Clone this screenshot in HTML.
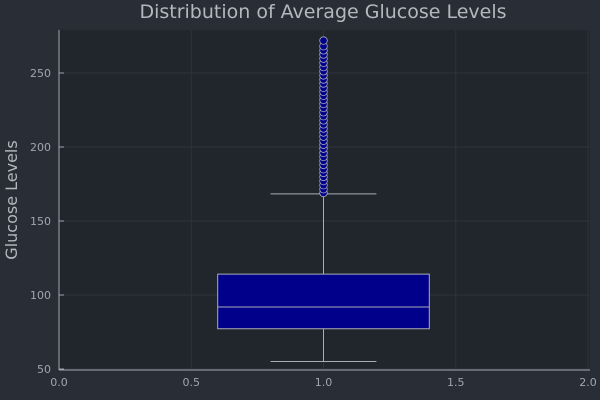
<!DOCTYPE html>
<html><head><meta charset="utf-8"><style>
html,body{margin:0;padding:0;background:#292d35;overflow:hidden;width:600px;height:400px;}
svg{display:block;}
svg text{font-family:"DejaVu Sans","Liberation Sans",sans-serif;}
</style></head><body>
<svg id="c" width="600" height="400" xmlns="http://www.w3.org/2000/svg">
<rect width="600" height="400" fill="#292d35"/>
<rect x="59" y="30" width="531" height="340" fill="#21252c"/>
<text x="323" y="18" font-size="19" fill="#b4b8be" text-anchor="middle">Distribution of Average Glucose Levels</text>
<text x="17" y="200" font-size="16" fill="#b4b8be" text-anchor="middle" transform="rotate(-90 17 200)">Glucose Levels</text>
<g id="grid"></g><g id="axes"></g><g id="marks"></g>
</svg>
<script>
const xTicks=[0,0.5,1.0,1.5,2.0];
const xTickLabels=["0.0","0.5","1.0","1.5","2.0"];
const yTicks=[50,100,150,200,250];
const yTickLabels=["50","100","150","200","250"];
const boxStats={min:55.1,q1:77.2,median:91.9,q3:114.1,max:168.3};
const outliers=[169.0,171.5,174.2,177.0,179.8,182.5,185.0,187.9,190.6,193.3,196.0,198.9,201.5,204.2,207.0,209.8,212.5,215.3,218.0,220.8,223.5,226.4,229.1,231.8,234.6,237.3,240.0,242.9,245.6,248.4,251.2,254.0,256.9,259.7,262.5,265.3,268.1,271.9];
const NS="http://www.w3.org/2000/svg";
const X=v=>59+v*(588-59)/2;
const Y=v=>369-(v-50)*(296/200);
function mk(t,a,p){const e=document.createElementNS(NS,t);for(const k in a)e.setAttribute(k,a[k]);p.appendChild(e);return e;}
const grid=document.getElementById('grid'),axes=document.getElementById('axes'),marks=document.getElementById('marks');
xTicks.forEach((v,i)=>{
 const g=mk('line',{x1:X(v),x2:X(v),y1:30,y2:370,stroke:'#2e333b','stroke-width':1},grid);
 
 
 const t=mk('text',{x:X(v),y:386,'font-size':11,fill:'#a0a6ae','text-anchor':'middle'},axes);t.textContent=xTickLabels[i];
 
 
});
yTicks.forEach((v,i)=>{
 const g=mk('line',{x1:59,x2:590,y1:Y(v),y2:Y(v),stroke:'#2e333b','stroke-width':1},grid);
 
 
 mk('line',{x1:59,x2:64,y1:Y(v),y2:Y(v),stroke:'#a0a6ae'},axes);
 const t=mk('text',{x:51,y:Y(v)+4,'font-size':11,fill:'#a0a6ae','text-anchor':'end'},axes);t.textContent=yTickLabels[i];
 
 
});
const ax=mk('line',{x1:59,x2:590,y1:370,y2:370,stroke:'#a0a6ae'},axes);


const ay=mk('line',{x1:59,x2:59,y1:30,y2:370,stroke:'#a0a6ae'},axes);


const s='#a9adb4';
const w1=mk('line',{x1:X(1),x2:X(1),y1:Y(boxStats.q3),y2:Y(boxStats.max),stroke:s},marks);


const w2=mk('line',{x1:X(1),x2:X(1),y1:Y(boxStats.q1),y2:Y(boxStats.min),stroke:s},marks);


const c1=mk('line',{x1:X(0.8),x2:X(1.2),y1:Y(boxStats.max),y2:Y(boxStats.max),stroke:s},marks);


const c2=mk('line',{x1:X(0.8),x2:X(1.2),y1:Y(boxStats.min),y2:Y(boxStats.min),stroke:s},marks);


const b=mk('rect',{x:X(0.6),y:Y(boxStats.q3),width:X(1.4)-X(0.6),height:Y(boxStats.q1)-Y(boxStats.q3),fill:'#00008b',stroke:s},marks);


const m=mk('line',{x1:X(0.6),x2:X(1.4),y1:Y(boxStats.median),y2:Y(boxStats.median),stroke:s},marks);


outliers.forEach(v=>{
 const c=mk('circle',{cx:X(1),cy:Y(v),r:3.8,fill:'#00008b',stroke:'#a9adb4','stroke-width':0.8},marks);
 
 
});
</script>
</body></html>
